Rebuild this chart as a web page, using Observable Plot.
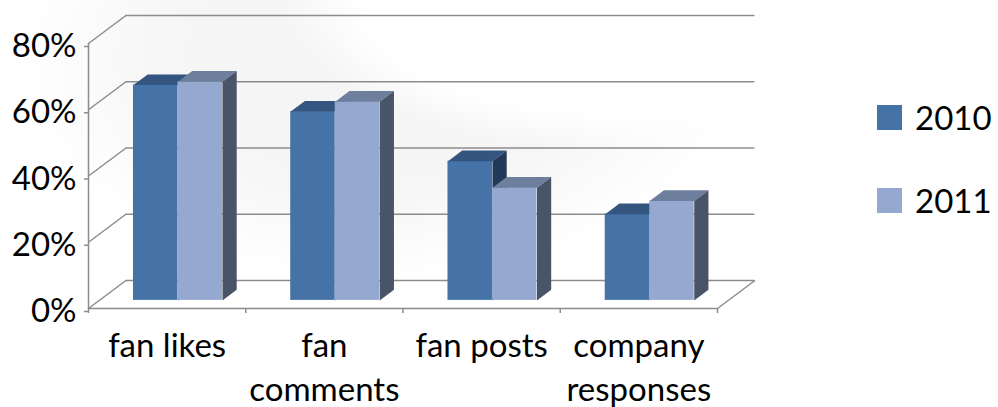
<!DOCTYPE html>
<html>
<head>
<meta charset="utf-8">
<script src="https://cdn.jsdelivr.net/npm/d3@7"></script>
<script src="https://cdn.jsdelivr.net/npm/@observablehq/plot@0.6"></script>
<style>
  html, body { margin: 0; padding: 0; }
  body {
    width: 998px; height: 407px; overflow: hidden; position: relative;
    font-family: Lato, "Open Sans", sans-serif;
    background:
      radial-gradient(ellipse 330px 150px at 610px 0px, #ffffff 0%, #ffffff 75%, rgba(255,255,255,0) 100%),
      radial-gradient(ellipse 360px 220px at 380px 60px, #f4f4f4 0%, #f6f6f6 60%, rgba(255,255,255,0) 100%),
      #ffffff;
  }
  #chart { position: absolute; left: 0; top: 0; }
  .legend { position: absolute; left: 877px; top: 105px; }
  .item { position: absolute; left: 0; display: flex; align-items: center; white-space: nowrap; }
  .sw { width: 25px; height: 25px; margin-right: 13px; }
  .lab { font-size: 33px; color: #000; line-height: 25px; }
</style>
</head>
<body>
<div id="chart"></div>
<div class="legend" id="legend"></div>
<script>
// ---- data ----
const categories = ["fan likes", "fan comments", "fan posts", "company responses"];
const categoryLabels = ["fan likes", "fan\ncomments", "fan posts", "company\nresponses"];
const seriesNames = ["2010", "2011"];
const values2010 = [65, 57, 42, 26];
const values2011 = [66, 60, 34, 30];
const yTicks = [0, 20, 40, 60, 80];

// ---- styling / projection params ----
const frontColors = {"2010": "#4572a7", "2011": "#95a8d0"};
const topColors   = {"2010": "#33557f", "2011": "#6d7f9c"};
const sideColors  = {"2010": "#23395a", "2011": "#4a5468"};
const DX = 0.238;   // depth offset along x (category units)
const DY = 8.45;    // depth offset along y (percent units)
const F0 = 0.29;    // front of bars as fraction of wall depth
const F1 = 0.67;    // back of bars
const BW = 0.283;   // bar width (category units)
const gridColor = "#8c8c8c";

const seriesValues = {"2010": values2010, "2011": values2011};
const proj = (x, y, f) => ({x: x + f * DX, y: y + f * DY});

const fronts = {}, tops = {}, sides = {};
seriesNames.forEach((s, k) => {
  fronts[s] = []; tops[s] = []; sides[s] = [];
  categories.forEach((c, i) => {
    const v = seriesValues[s][i];
    const x0 = i + 0.5 - BW + k * BW, x1 = x0 + BW;
    const a = proj(x0, 0, F0), b = proj(x1, v, F0);
    fronts[s].push({x1: a.x, x2: b.x, y1: a.y, y2: b.y});
    const id = c + s;
    [proj(x0, v, F0), proj(x1, v, F0), proj(x1, v, F1), proj(x0, v, F1)]
      .forEach(p => tops[s].push({...p, id}));
    [proj(x1, 0, F0), proj(x1, v, F0), proj(x1, v, F1), proj(x1, 0, F1)]
      .forEach(p => sides[s].push({...p, id}));
  });
});

const barMarks = [];
seriesNames.forEach(s => {
  barMarks.push(Plot.rect(fronts[s], {x1: "x1", x2: "x2", y1: "y1", y2: "y2", fill: frontColors[s]}));
  barMarks.push(Plot.line(tops[s], {x: "x", y: "y", z: "id", fill: topColors[s], stroke: "none", curve: "linear"}));
  barMarks.push(Plot.line(sides[s], {x: "x", y: "y", z: "id", fill: sideColors[s], stroke: "none", curve: "linear"}));
});

const nCat = categories.length;
const chart = Plot.plot({
  width: 998,
  height: 407,
  marginLeft: 88,
  marginRight: 281,
  marginTop: 43,
  marginBottom: 99,
  x: {domain: [0, nCat], axis: null},
  y: {domain: [0, 80], axis: null},
  style: {background: "transparent", fontFamily: "Lato, 'Open Sans', sans-serif", overflow: "visible"},
  marks: [
    // back wall gridlines
    Plot.ruleY(yTicks, {y: d => d + DY, x1: DX, x2: nCat + DX, stroke: gridColor, strokeWidth: 1.5}),
    // side wall diagonals
    Plot.link(yTicks, {x1: 0, y1: d => d, x2: DX, y2: d => d + DY, stroke: gridColor, strokeWidth: 1.5}),
    // floor right edge
    Plot.link([nCat], {x1: d => d, y1: 0, x2: d => d + DX, y2: DY, stroke: gridColor, strokeWidth: 1.5}),
    // left axis line and floor front edge
    Plot.ruleX([0], {y1: 0, y2: 80, stroke: gridColor, strokeWidth: 1.5}),
    Plot.ruleY([0], {x1: 0, x2: nCat, stroke: gridColor, strokeWidth: 1.5}),
    ...barMarks,
    Plot.axisY(yTicks, {tickFormat: d => d + "%", tickSize: 4, tickPadding: 8, fontSize: 33, dy: 3,
      stroke: gridColor, strokeWidth: 1.5, fill: "#000"}),
    Plot.axisX(d3.range(nCat + 1), {tickFormat: () => "", tickSize: 5, stroke: gridColor, strokeWidth: 1.5}),
    Plot.text(categoryLabels, {x: (d, i) => i + 0.5, y: 0, dy: 18, lineAnchor: "top", lineHeight: 1.32,
      fontSize: 33, fill: "#000", textAnchor: "middle"})
  ]
});
document.getElementById("chart").appendChild(chart);

// legend
const legend = document.getElementById("legend");
seriesNames.forEach((s, k) => {
  const item = document.createElement("div");
  item.className = "item";
  item.style.top = (k * 83) + "px";
  item.innerHTML = `<div class="sw" style="background:${frontColors[s]}"></div><div class="lab">${s}</div>`;
  legend.appendChild(item);
});
</script>
</body>
</html>
